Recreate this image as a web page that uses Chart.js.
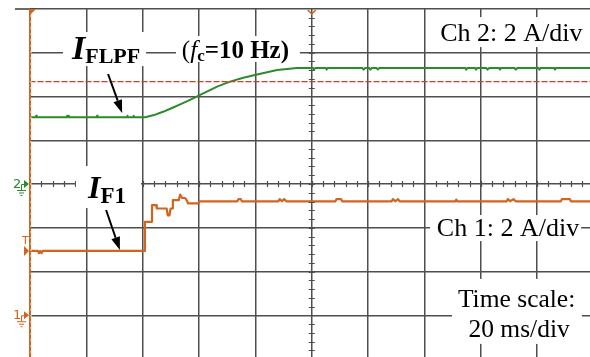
<!DOCTYPE html>
<html>
<head>
<meta charset="utf-8">
<title>Filtered current step</title>
<script src="https://cdn.jsdelivr.net/npm/chart.js@4/dist/chart.umd.min.js"></script>
<style>
  html, body { margin: 0; padding: 0; background: #fff; overflow: hidden; }
  canvas { display: block; }
</style>
</head>
<body>
<canvas id="scope" width="600" height="370" style="width:600px;height:370px"></canvas>
<script>
// --- Scope capture: time in ms (20 ms/div), both channels 2 A/div ---
const TIME_MIN = 0, TIME_MAX = 200;
const CH1_MIN = -2, CH1_MAX = 14;   // Ch 1 ground sits one div above the bottom
const CH2_MIN = -8, CH2_MAX = 8;    // Ch 2 ground on the centre line
const TRIG_LEVEL = 2.94;            // Ch 1 trigger level

// I_F1 on Ch 1 (A)
const if1Time = [0, 2.8, 3.2, 3.6, 4.1, 4.5, 40.5, 40.8, 43.0, 43.3, 44.8, 45.0,
  48.5, 48.9, 49.5, 49.9, 50.4, 50.7, 52.8, 53.3, 54.0, 55.0, 55.6, 56.1, 59.8, 60.2,
  73.6, 74.0, 74.8, 75.2, 88.2, 88.6, 89.4, 90.2, 91.0, 108.4, 108.8, 110.4, 110.8,
  128.4, 128.8, 129.6, 130.6, 131.2, 151.0, 151.3, 151.6, 169.2, 169.6, 170.4, 171.6, 172.4,
  188.4, 188.8, 191.6, 192.0, 200];
const if1Amp = [2.94, 2.94, 2.84, 2.94, 2.84, 2.94, 2.94, 4.27, 4.27, 5.03, 5.03, 4.88,
  4.88, 4.57, 4.57, 4.88, 4.88, 5.26, 5.26, 5.52, 5.36, 5.36, 5.26, 5.11, 5.11, 5.21,
  5.21, 5.31, 5.31, 5.21, 5.21, 5.31, 5.21, 5.31, 5.21, 5.21, 5.31, 5.31, 5.21,
  5.21, 5.31, 5.21, 5.31, 5.21, 5.21, 5.29, 5.21, 5.21, 5.31, 5.21, 5.31, 5.21,
  5.21, 5.31, 5.31, 5.21, 5.21];

// I_FLPF on Ch 2 (A), low-pass filtered with fc = 10 Hz
const iflpfTime = [0, 2.0, 2.2, 2.4, 13.0, 13.2, 13.6, 13.8, 14.0, 23.6, 23.8, 24.0,
  34.4, 34.6, 34.8, 36.6, 36.8, 37.0, 40.9, 44.0, 47.2, 50.0, 53.3, 57.0, 60.4, 63.5,
  66.4, 71.0, 75.7, 80.6, 87.7, 94.8, 100.5, 100.8, 101.2, 105.0, 105.3, 105.6,
  118.0, 118.4, 119.0, 120.5, 120.8, 121.4, 123.0, 123.4, 124.0,
  154.5, 154.8, 155.2, 158.0, 158.3, 158.7, 162.0, 162.4, 163.0, 166.5, 166.8, 167.2,
  172.0, 172.4, 173.0, 180.5, 180.8, 181.2, 186.0, 186.3, 186.7, 200];
const iflpfAmp = [3.05, 3.05, 3.12, 3.05, 3.05, 3.12, 3.05, 3.12, 3.05, 3.05, 3.12, 3.05,
  3.05, 3.12, 3.05, 3.05, 3.12, 3.05, 3.05, 3.15, 3.30, 3.45, 3.64, 3.86, 4.07, 4.27,
  4.45, 4.68, 4.86, 5.01, 5.21, 5.30, 5.30, 5.23, 5.30, 5.30, 5.23, 5.30,
  5.30, 5.23, 5.30, 5.30, 5.23, 5.30, 5.30, 5.24, 5.30,
  5.30, 5.23, 5.30, 5.30, 5.23, 5.30, 5.30, 5.23, 5.30, 5.30, 5.23, 5.30,
  5.30, 5.23, 5.30, 5.30, 5.23, 5.30, 5.30, 5.23, 5.30, 5.30];

// reference cursor on Ch 2 (A)
const cursorTime = [TIME_MIN, TIME_MAX];
const cursorAmp = [4.68, 4.68];

const GREEN = '#2a8c2a';
const ORANGE = '#d2641e';
const GRID = '#4e4e4e';
const SERIF = '"Liberation Serif", "Times New Roman", serif';

const pts = (xs, ys) => xs.map((x, i) => ({ x, y: ys[i] }));

// text runs: [text, font, baseline shift]
function drawRuns(ctx, x, y, runs) {
  runs.forEach(([txt, font, dy]) => {
    ctx.font = font;
    ctx.fillText(txt, x, y + (dy || 0));
    x += ctx.measureText(txt).width;
  });
}

function arrow(ctx, x0, y0, x1, y1) {
  const ang = Math.atan2(y1 - y0, x1 - x0), len = 13, half = 4.5;
  const bx = x1 - len * Math.cos(ang), by = y1 - len * Math.sin(ang);
  ctx.strokeStyle = '#000'; ctx.fillStyle = '#000'; ctx.lineWidth = 2;
  ctx.beginPath(); ctx.moveTo(x0, y0); ctx.lineTo(bx, by); ctx.stroke();
  ctx.beginPath();
  ctx.moveTo(x1, y1);
  ctx.lineTo(bx + half * Math.sin(ang), by - half * Math.cos(ang));
  ctx.lineTo(bx - half * Math.sin(ang), by + half * Math.cos(ang));
  ctx.closePath(); ctx.fill();
}

function groundMarker(ctx, left, y, label, color) {
  ctx.fillStyle = color; ctx.strokeStyle = color; ctx.lineWidth = 1;
  ctx.beginPath(); ctx.moveTo(left - 1, y); ctx.lineTo(left - 6, y - 4); ctx.lineTo(left - 6, y + 4); ctx.closePath(); ctx.fill();
  ctx.beginPath();
  ctx.moveTo(left - 6, y + 0.5); ctx.lineTo(left - 8.5, y + 0.5); ctx.lineTo(left - 8.5, y + 6);
  ctx.moveTo(left - 13, y + 6.5); ctx.lineTo(left - 4, y + 6.5);
  ctx.moveTo(left - 11, y + 9); ctx.lineTo(left - 6, y + 9);
  ctx.moveTo(left - 9.5, y + 11.5); ctx.lineTo(left - 7.5, y + 11.5);
  ctx.stroke();
  ctx.font = '13px "DejaVu Sans", sans-serif';
  ctx.textBaseline = 'alphabetic';
  ctx.fillText(label, left - 17, y + 4);
}

const scopeMarks = {
  id: 'scopeMarks',
  afterDatasetsDraw(chart) {
    const { ctx, chartArea: ca, scales } = chart;
    const X = v => scales.x.getPixelForValue(v);
    const Y1 = v => scales.y.getPixelForValue(v);
    const Y2 = v => scales.y2.getPixelForValue(v);
    ctx.save();

    // minor ticks on the centre cross
    ctx.strokeStyle = GRID; ctx.lineWidth = 1.2;
    ctx.beginPath();
    for (let t = TIME_MIN; t <= TIME_MAX; t += 4) {
      const px = Math.round(X(t)) + 0.5, py = Y2(0);
      ctx.moveTo(px, py - 3); ctx.lineTo(px, py + 3);
    }
    for (let v = CH1_MIN; v <= CH1_MAX; v += 0.4) {
      const px = X(100), py = Math.round(Y1(v)) + 0.5;
      ctx.moveTo(px - 3, py); ctx.lineTo(px + 3, py);
    }
    ctx.stroke();

    // top rule runs a little past the left edge
    ctx.strokeStyle = '#6a6a6a'; ctx.lineWidth = 2;
    ctx.beginPath(); ctx.moveTo(ca.left - 15, ca.top); ctx.lineTo(ca.left, ca.top); ctx.stroke();

    // left edge: orange with a dotted light stripe
    ctx.strokeStyle = ORANGE; ctx.lineWidth = 2;
    ctx.beginPath(); ctx.moveTo(ca.left, ca.top); ctx.lineTo(ca.left, ca.bottom); ctx.stroke();
    ctx.strokeStyle = '#e8e8e8'; ctx.lineWidth = 1; ctx.setLineDash([2, 4]);
    ctx.beginPath(); ctx.moveTo(ca.left + 1, ca.top + 6); ctx.lineTo(ca.left + 1, ca.bottom); ctx.stroke();
    ctx.setLineDash([]);
    ctx.fillStyle = ORANGE;
    ctx.beginPath(); ctx.moveTo(ca.left - 1, ca.top); ctx.lineTo(ca.left + 6, ca.top); ctx.lineTo(ca.left - 1, ca.top + 7); ctx.closePath(); ctx.fill();

    // trigger position marker on top edge
    ctx.strokeStyle = ORANGE; ctx.lineWidth = 1.5;
    ctx.beginPath(); ctx.moveTo(X(100) - 4, ca.top + 1); ctx.lineTo(X(100), ca.top + 5); ctx.lineTo(X(100) + 4, ca.top + 1); ctx.stroke();

    // channel ground markers and trigger level
    groundMarker(ctx, ca.left, Y2(0), '2', GREEN);
    groundMarker(ctx, ca.left, Y1(0), '1', ORANGE);
    const ty = Y1(TRIG_LEVEL);
    ctx.fillStyle = ORANGE;
    ctx.beginPath(); ctx.moveTo(ca.left - 1, ty); ctx.lineTo(ca.left - 6, ty - 5); ctx.lineTo(ca.left - 6, ty + 5); ctx.closePath(); ctx.fill();
    ctx.font = '11px "DejaVu Sans", sans-serif';
    ctx.fillText('T', ca.left - 8, ty - 7);

    // label boxes (time in ms, height in Ch 2 amps)
    const blank = (t0, a0, t1, a1) => {
      ctx.fillStyle = '#fff';
      ctx.fillRect(X(t0), Y2(a0), X(t1) - X(t0), Y2(a1) - Y2(a0));
    };
    blank(144.8, 7.63, 198.0, 6.26);
    blank(142.0, -1.42, 195.6, -2.61);
    blank(149.8, -4.34, 195.9, -7.31);
    blank(11.7, 6.95, 41.2, 5.39);
    blank(51.8, 6.77, 95.8, 5.58);
    blank(16.3, 0.82, 39.4, -1.10);

    ctx.fillStyle = '#000';
    ctx.textBaseline = 'alphabetic';
    ctx.textAlign = 'left';
    ctx.font = '26px ' + SERIF;
    ctx.fillText('Ch 2: 2 A/div', X(145.6), Y2(6.54));
    ctx.fillText('Ch 1: 2 A/div', X(144.4), Y2(-2.38));
    ctx.textAlign = 'center';
    ctx.font = '25.5px ' + SERIF;
    ctx.fillText('Time scale:', X(172.7), Y2(-5.62));
    ctx.fillText('20 ms/div', X(173.6), Y2(-6.99));
    ctx.textAlign = 'left';

    drawRuns(ctx, X(14.9), Y2(5.71), [
      ['I', 'italic bold 34px ' + SERIF, 0],
      ['FLPF', 'bold 22px ' + SERIF, 4]
    ]);
    drawRuns(ctx, X(53.9), Y2(5.76), [
      ['(', '25px ' + SERIF, 0],
      ['f', 'italic 25px ' + SERIF, 0],
      ['c', 'bold 17px ' + SERIF, 3],
      ['=10 Hz)', 'bold 25px ' + SERIF, 0]
    ]);
    drawRuns(ctx, X(20.6), Y2(-0.64), [
      ['I', 'italic bold 32px ' + SERIF, 0],
      ['F1', 'bold 23px ' + SERIF, 5]
    ]);

    arrow(ctx, X(27.7), Y2(5.03), X(32.7), Y2(3.25));
    arrow(ctx, X(27.0), Y2(-1.19), X(31.9), Y2(-3.02));

    ctx.restore();
  }
};

new Chart(document.getElementById('scope'), {
  type: 'line',
  data: {
    datasets: [
      { data: pts(cursorTime, cursorAmp), yAxisID: 'y2', borderColor: '#d03c28', borderWidth: 1.4, borderDash: [5, 3] },
      { data: pts(iflpfTime, iflpfAmp), yAxisID: 'y2', borderColor: GREEN, borderWidth: 2 },
      { data: pts(if1Time, if1Amp), yAxisID: 'y', borderColor: ORANGE, borderWidth: 2.2 }
    ]
  },
  options: {
    responsive: false,
    devicePixelRatio: 1,
    animation: false,
    layout: { padding: { left: 30, top: 9, right: 6.5, bottom: 11 } },
    elements: { point: { radius: 0 }, line: { tension: 0, borderJoinStyle: 'round', borderCapStyle: 'round' } },
    plugins: { legend: { display: false }, tooltip: { enabled: false } },
    scales: {
      x: {
        type: 'linear', min: TIME_MIN, max: TIME_MAX,
        ticks: { display: false, stepSize: 20 },
        grid: { color: GRID, lineWidth: 1.5, drawTicks: false },
        border: { display: false },
        afterFit: s => { s.height = 0; }
      },
      y: {
        position: 'left', min: CH1_MIN, max: CH1_MAX,
        ticks: { display: false, stepSize: 2 },
        grid: { color: GRID, lineWidth: 1.5, drawTicks: false },
        border: { display: false },
        afterFit: s => { s.width = 0; }
      },
      y2: { display: false, min: CH2_MIN, max: CH2_MAX }
    }
  },
  plugins: [scopeMarks]
});
</script>
</body>
</html>
